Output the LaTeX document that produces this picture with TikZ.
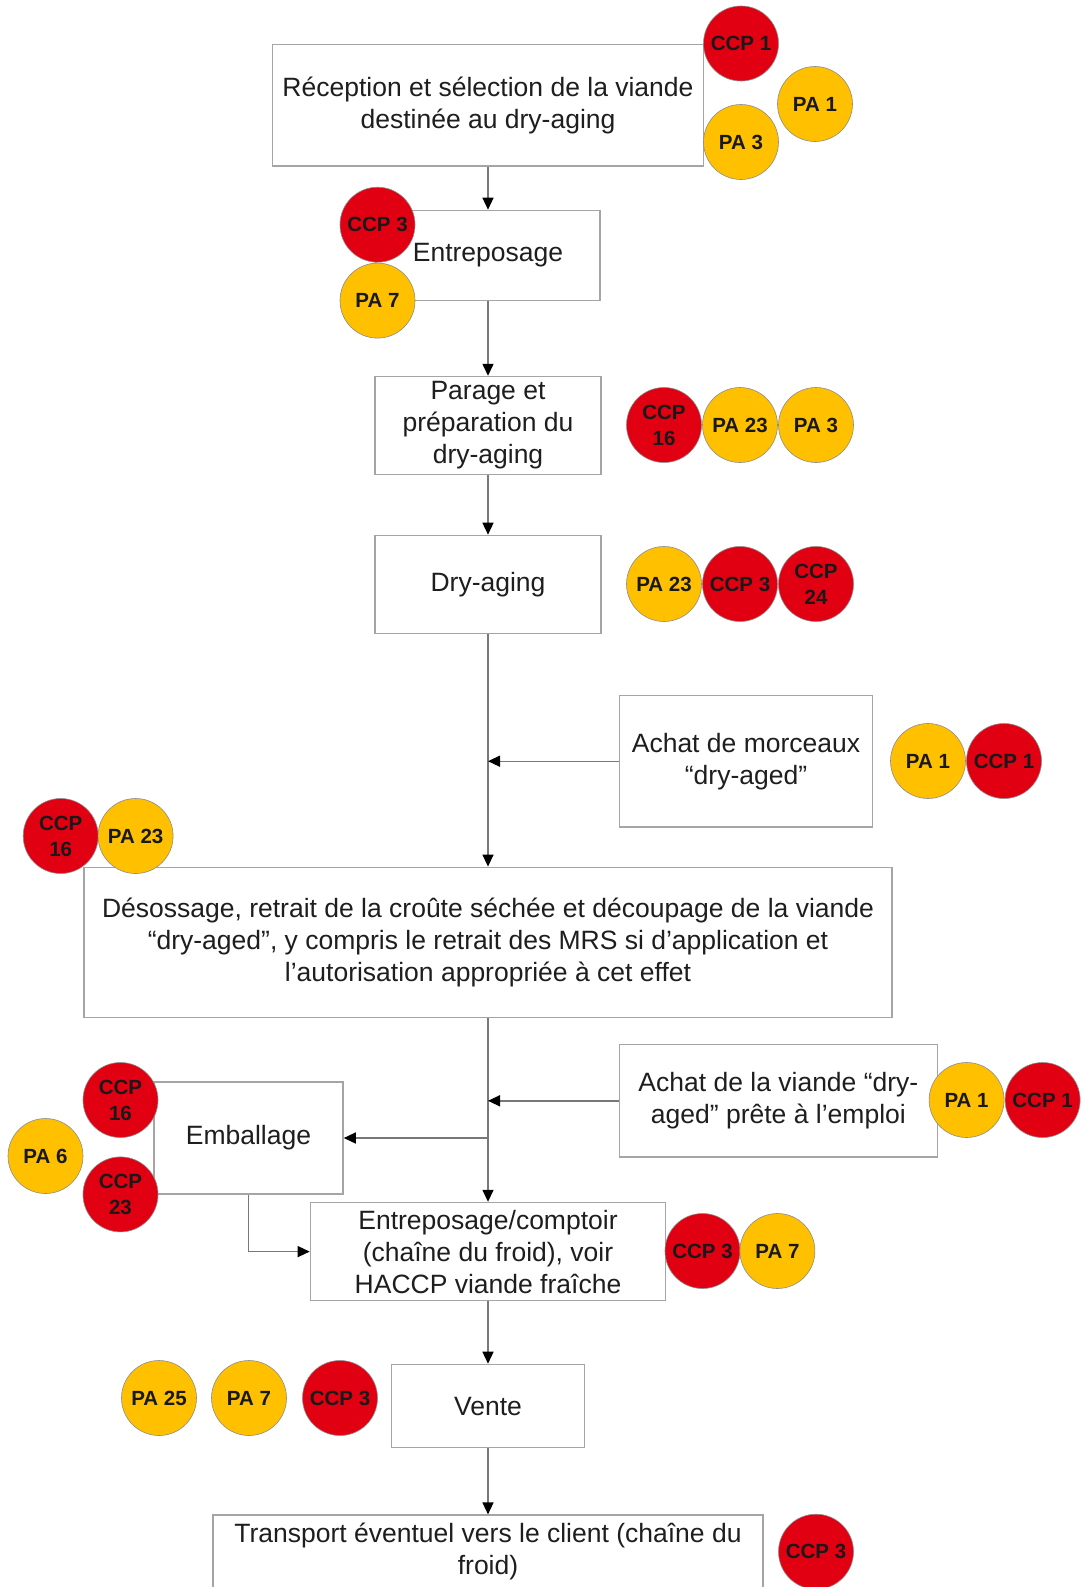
\documentclass[tikz,border=0pt]{standalone}
\usepackage{fontspec}
\setmainfont{Liberation Sans}
\usetikzlibrary{arrows.meta}
\definecolor{ccpred}{RGB}{224,0,18}
\definecolor{payel}{RGB}{255,192,0}
\definecolor{boxgray}{RGB}{165,165,165}
\definecolor{linegray}{RGB}{120,120,120}
\definecolor{txt}{RGB}{30,30,30}
\begin{document}
\begin{tikzpicture}[x=1pt,y=-1pt,
  stepbox/.style={draw=boxgray, line width=1.6pt, fill=white, align=center, inner sep=0pt, text=txt, font=\fontsize{26.5}{32}\selectfont},
  ccp/.style={circle, fill=ccpred, draw=black!45, line width=0.6pt, minimum size=75pt, inner sep=0pt, align=center, text=black!90, font=\bfseries\fontsize{20.5}{26}\selectfont},
  pa/.style={ccp, fill=payel},
  conn/.style={draw=linegray, line width=1.4pt, -{Triangle[length=12pt,width=11pt,color=black]}},
  plain/.style={draw=linegray, line width=1.4pt}
]
\clip (0,0) rectangle (1082,1587);
\fill[white] (0,0) rectangle (1082,1587);

% boxes
\node[stepbox, minimum width=431pt, minimum height=121.5pt] (b1) at (488,105.3) {Réception et sélection de la viande\\destinée au dry-aging};
\node[stepbox, minimum width=224.5pt, minimum height=90pt] (b2) at (488,255.5) {Entreposage};
\node[stepbox, minimum width=225.5pt, minimum height=98pt] (b3) at (488,425.6) {Parage et\\préparation du\\dry-aging};
\node[stepbox, minimum width=225.5pt, minimum height=98pt] (b4) at (488,584.5) {Dry-aging};
\node[stepbox, minimum width=253pt, minimum height=131.6pt] (b5) at (746,761.2) {Achat de morceaux\\“dry-aged”};
\node[stepbox, minimum width=808pt, minimum height=150pt] (b6) at (488,942.4) {Désossage, retrait de la croûte séchée et découpage de la viande\\“dry-aged”, y compris le retrait des MRS si d’application et\\l’autorisation appropriée à cet effet};
\node[stepbox, minimum width=318pt, minimum height=112.4pt] (b7) at (778.4,1100.8) {Achat de la viande “dry-\\aged” prête à l’emploi};
\node[stepbox, minimum width=189pt, minimum height=112pt] (b8) at (248.5,1138) {Emballage};
\node[stepbox, minimum width=355pt, minimum height=98pt] (b9) at (488,1251.6) {Entreposage/comptoir\\(chaîne du froid), voir\\HACCP viande fraîche};
\node[stepbox, minimum width=193pt, minimum height=83pt] (b10) at (488,1406) {Vente};
\node[stepbox, minimum width=550.5pt, minimum height=73pt] (b11) at (488,1551.7) {Transport éventuel vers le client (chaîne du\\froid)};

% connectors
\draw[conn] (b1.south) -- (b2.north);
\draw[conn] (b2.south) -- (b3.north);
\draw[conn] (b3.south) -- (b4.north);
\draw[conn] (b4.south) -- (b6.north);
\draw[conn] (b5.west) -- (b5.west -| b4.south);
\draw[conn] (b6.south) -- (b9.north);
\draw[conn] (b7.west) -- (b7.west -| b6.south);
\draw[conn] (b8.east -| b6.south) -- (b8.east);
\draw[conn] (b8.south) -- (b8.south |- b9.west) -- (b9.west);
\draw[conn] (b9.south) -- (b10.north);
\draw[conn] (b10.south) -- (b11.north);

% circles
\node[ccp] (c1) at (741,43.5) {CCP 1};
\node[pa] (c2) at (815,104) {PA 1};
\node[pa] (c3) at (741,142) {PA 3};
\node[ccp] (c4) at (377.5,224.7) {CCP 3};
\node[pa] (c5) at (377.5,300.6) {PA 7};
\node[ccp] (c6) at (664,425) {CCP\\16};
\node[pa] (c7) at (740,425) {PA 23};
\node[pa] (c8) at (816,425) {PA 3};
\node[pa] (c9) at (664,584) {PA 23};
\node[ccp] (c10) at (740,584) {CCP 3};
\node[ccp] (c11) at (816,584) {CCP\\24};
\node[pa] (c12) at (928,761) {PA 1};
\node[ccp] (c13) at (1004,761) {CCP 1};
\node[ccp] (c14) at (60.7,836) {CCP\\16};
\node[pa] (c15) at (135.6,836) {PA 23};
\node[pa] (c16) at (966.6,1100) {PA 1};
\node[ccp] (c17) at (1042.6,1100) {CCP 1};
\node[ccp] (c18) at (120.5,1100) {CCP\\16};
\node[pa] (c19) at (45.5,1156) {PA 6};
\node[ccp] (c20) at (120.5,1194.4) {CCP\\23};
\node[ccp] (c21) at (702.5,1251) {CCP 3};
\node[pa] (c22) at (777.4,1251) {PA 7};
\node[pa] (c23) at (159,1398) {PA 25};
\node[pa] (c24) at (249,1398) {PA 7};
\node[ccp] (c25) at (340,1398) {CCP 3};
\node[ccp] (c26) at (816,1551.7) {CCP 3};
\end{tikzpicture}
\end{document}
